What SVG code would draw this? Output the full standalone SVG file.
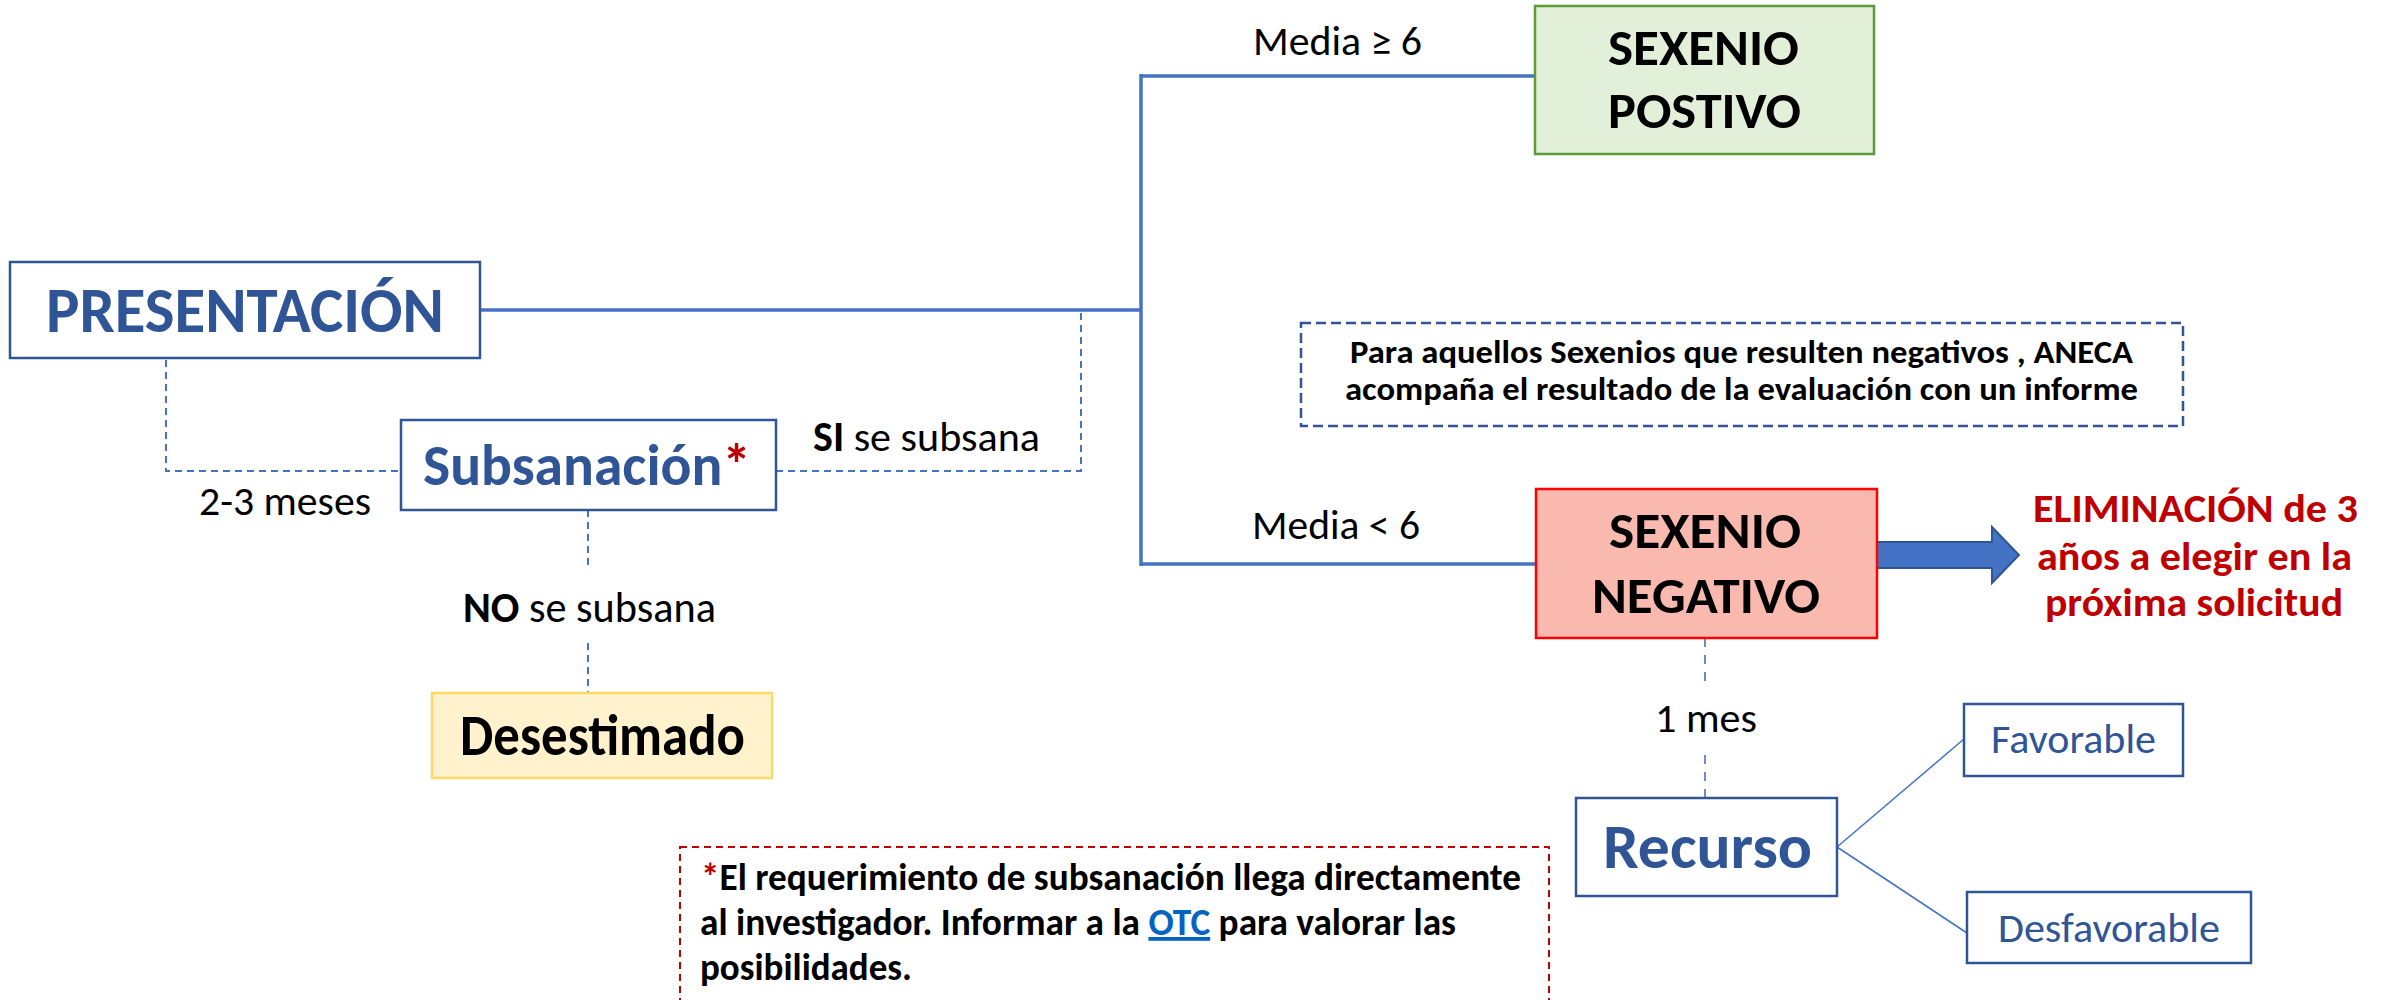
<svg xmlns="http://www.w3.org/2000/svg" width="2392" height="1000" viewBox="0 0 2392 1000">
<style>
text{font-family:"Carlito","Liberation Sans Narrow","Liberation Sans",sans-serif}
.b{font-weight:bold}
.blue{fill:#2F5597}
.blk{fill:#000}
.red{fill:#C00000}
.solid{fill:none;stroke:#4472C4;stroke-width:3.5}
.dash{fill:none;stroke:#4472C4;stroke-width:2;stroke-dasharray:7 5}
.thin{fill:none;stroke:#4472C4;stroke-width:1.5}
.boxb{fill:#fff;stroke:#2F5597;stroke-width:2.5}
</style>
<rect width="2392" height="1000" fill="#fff"/>
<g id="connectors">
<line class="solid" x1="481" y1="310" x2="1141" y2="310"/>
<line class="solid" x1="1141" y1="74" x2="1141" y2="566"/>
<line class="solid" x1="1141" y1="76" x2="1535" y2="76"/>
<line class="solid" x1="1141" y1="564" x2="1535" y2="564"/>
<polyline class="dash" points="166,360 166,471 401,471"/>
<polyline class="dash" points="776,471 1081,471 1081,312"/>
<line class="dash" x1="588" y1="510" x2="588" y2="569"/>
<line class="dash" x1="588" y1="643" x2="588" y2="693"/>
<line class="dash" x1="1705" y1="638" x2="1705" y2="681" style="stroke:#6A8CC8;stroke-dasharray:9 8"/>
<line class="dash" x1="1705" y1="755" x2="1705" y2="798" style="stroke:#6A8CC8;stroke-dasharray:9 8"/>
<line class="thin" x1="1837" y1="847" x2="1964" y2="739"/>
<line class="thin" x1="1837" y1="847" x2="1967" y2="933"/>
<polygon points="1877,542 1992,542 1992,527 2019,555 1992,583 1992,568 1877,568" fill="#4472C4" stroke="#2F5597" stroke-width="2"/>
</g>
<g id="labels">
<text x="199" y="515" font-size="42" class="blk" textLength="172" lengthAdjust="spacingAndGlyphs">2-3 meses</text>
<text x="813" y="451" font-size="42" class="blk" textLength="227" lengthAdjust="spacingAndGlyphs"><tspan class="b">SI</tspan> se subsana</text>
<text x="463" y="622" font-size="43" class="blk" textLength="253" lengthAdjust="spacingAndGlyphs"><tspan class="b">NO</tspan> se subsana</text>
<text x="1253" y="55" font-size="42" class="blk" textLength="169" lengthAdjust="spacingAndGlyphs">Media ≥ 6</text>
<text x="1252" y="539" font-size="42" class="blk" textLength="168" lengthAdjust="spacingAndGlyphs">Media &lt; 6</text>
<text x="1655" y="732" font-size="42" class="blk" textLength="102" lengthAdjust="spacingAndGlyphs">1 mes</text>
</g>
<g id="presentacion">
<rect class="boxb" x="10" y="262" width="470" height="96"/>
<text x="46" y="332" font-size="65" class="blue b" textLength="398" lengthAdjust="spacingAndGlyphs">PRESENTACIÓN</text>
</g>
<g id="subsanacion">
<rect class="boxb" x="401" y="420" width="375" height="90"/>
<text x="423" y="485" font-size="59" class="blue b" textLength="328" lengthAdjust="spacingAndGlyphs">Subsanación<tspan class="red">*</tspan></text>
</g>
<g id="desestimado">
<rect x="432" y="693" width="340" height="85" fill="#FFF2CC" stroke="#FFD966" stroke-width="2.5"/>
<text x="460" y="755" font-size="58" class="blk b" textLength="285" lengthAdjust="spacingAndGlyphs">Desestimado</text>
</g>
<g id="sexenio-positivo">
<rect x="1535" y="6" width="339" height="148" fill="#E2F0D9" stroke="#5E9A3A" stroke-width="2.5"/>
<text x="1608" y="65" font-size="50" class="blk b" textLength="191" lengthAdjust="spacingAndGlyphs">SEXENIO</text>
<text x="1608" y="128" font-size="50" class="blk b" textLength="193" lengthAdjust="spacingAndGlyphs">POSTIVO</text>
</g>
<g id="nota-aneca">
<rect x="1301" y="323" width="882" height="103" fill="none" stroke="#2F5597" stroke-width="2.5" stroke-dasharray="10 5"/>
<text x="1350" y="363" font-size="32" class="blk b" textLength="783" lengthAdjust="spacingAndGlyphs">Para aquellos Sexenios que resulten negativos , ANECA</text>
<text x="1345" y="400" font-size="32" class="blk b" textLength="793" lengthAdjust="spacingAndGlyphs">acompaña el resultado de la evaluación con un informe</text>
</g>
<g id="sexenio-negativo">
<rect x="1536" y="489" width="341" height="149" fill="#F9B9AF" stroke="#FF0000" stroke-width="2.5"/>
<text x="1609" y="548" font-size="50" class="blk b" textLength="192" lengthAdjust="spacingAndGlyphs">SEXENIO</text>
<text x="1592" y="613" font-size="50" class="blk b" textLength="228" lengthAdjust="spacingAndGlyphs">NEGATIVO</text>
</g>
<g id="eliminacion">
<text x="2033" y="522" font-size="41" class="red b" textLength="325" lengthAdjust="spacingAndGlyphs">ELIMINACIÓN de 3</text>
<text x="2037" y="570" font-size="41" class="red b" textLength="315" lengthAdjust="spacingAndGlyphs">años a elegir en la</text>
<text x="2045" y="616" font-size="41" class="red b" textLength="298" lengthAdjust="spacingAndGlyphs">próxima solicitud</text>
</g>
<g id="recurso">
<rect class="boxb" x="1576" y="798" width="261" height="98"/>
<text x="1603" y="868" font-size="62" class="blue b" textLength="209" lengthAdjust="spacingAndGlyphs">Recurso</text>
</g>
<g id="favorable">
<rect class="boxb" x="1964" y="704" width="219" height="72"/>
<text x="1991" y="753" font-size="40" class="blue" textLength="165" lengthAdjust="spacingAndGlyphs">Favorable</text>
</g>
<g id="desfavorable">
<rect class="boxb" x="1967" y="892" width="284" height="71"/>
<text x="1998" y="942" font-size="40" class="blue" textLength="222" lengthAdjust="spacingAndGlyphs">Desfavorable</text>
</g>
<g id="nota-subsanacion">
<rect x="680" y="847" width="869" height="170" fill="none" stroke="#C00000" stroke-width="2" stroke-dasharray="7 5"/>
<text x="701" y="890" font-size="38" class="blk b" textLength="820" lengthAdjust="spacingAndGlyphs"><tspan class="red">*</tspan>El requerimiento de subsanación llega directamente</text>
<text x="700" y="935" font-size="38" class="blk b" textLength="756" lengthAdjust="spacingAndGlyphs">al investigador. Informar a la <tspan fill="#0563C1" text-decoration="underline">OTC</tspan> para valorar las</text>
<text x="700" y="980" font-size="38" class="blk b" textLength="212" lengthAdjust="spacingAndGlyphs">posibilidades.</text>
</g>
</svg>
